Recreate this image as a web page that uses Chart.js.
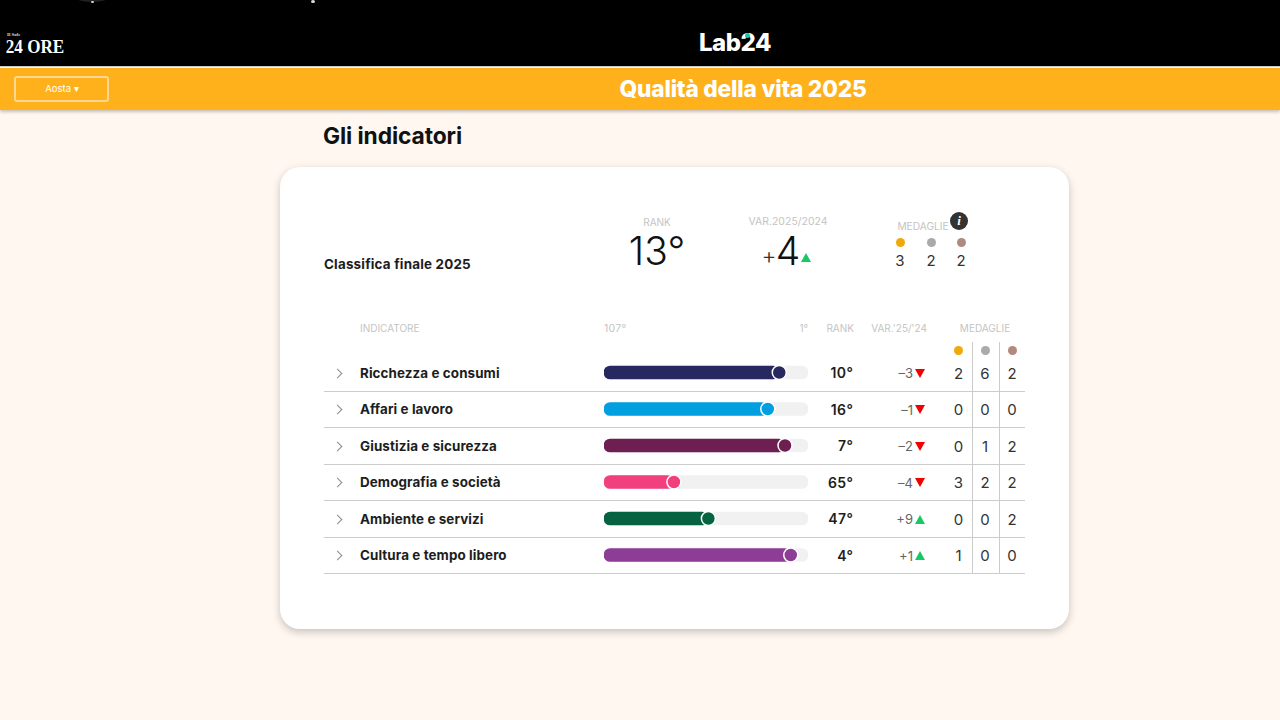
<!DOCTYPE html>
<html lang="it">
<head>
<meta charset="utf-8">
<title>Qualità della vita 2025</title>
<script src="https://cdn.jsdelivr.net/npm/chart.js@4"></script>
<style>
  html, body { margin: 0; padding: 0; width: 1280px; height: 720px; overflow: hidden; background: #fff7f0; font-family: Inter, "Noto Sans", sans-serif; }
  .top { position: absolute; left: 0; top: 0; width: 1280px; height: 66px; background: #000; border-bottom: 1.5px solid #ccc; }
  .band { position: absolute; left: 0; top: 68px; width: 1280px; height: 42px; background: #ffb11b; box-shadow: 0 2px 3px rgba(0,0,0,.22); }
  .select { position: absolute; left: 14px; top: 76px; width: 91px; height: 22px; border: 2px solid #ffd694; border-radius: 3px; }
  .card { position: absolute; left: 280px; top: 167px; width: 789px; height: 462px; background: #fff; border-radius: 20px; box-shadow: 0 3px 8px rgba(0,0,0,.22); }
  .t { position: absolute; white-space: nowrap; line-height: 1; transform: translateY(-50%); }
  .c { transform: translate(-50%, -50%); }
  .r { transform: translate(-100%, -50%); }
  .head { color: #c4c4c4; font-size: 10px; }
  .name { color: #1d1d1d; font-size: 13.4px; font-weight: 700; letter-spacing: .1px; }
  .rank { color: #1d1d1d; font-size: 14px; font-weight: 700; letter-spacing: .5px; }
  .vari { color: #666; font-size: 13px; }
  .num { color: #333; font-size: 15px; }
  .dot { position: absolute; border-radius: 50%; }
  .line { position: absolute; background: #ccc; }
  .chev { position: absolute; width: 6px; height: 6px; border-top: 1.3px solid #8a8a8a; border-right: 1.3px solid #8a8a8a; transform: rotate(45deg); }
  .tri { position: absolute; width: 0; height: 0; border-left: 5.5px solid transparent; border-right: 5.5px solid transparent; }
  .info { position: absolute; left: 950px; top: 212px; width: 18px; height: 18px; border-radius: 50%; background: #333; color: #fff; font: italic 700 13px/18px "Liberation Serif", serif; text-align: center; }
  #chartBox { position: absolute; left: 594px; top: 354px; width: 224px; height: 220px; }
</style>
</head>
<body>
<div class="top"></div>
<div class="band"></div>
<div class="select"></div>
<div class="card"></div>
<div class="info">i</div>
<div id="page"></div>
<div id="chartBox"><canvas id="chart"></canvas></div>
<script>
const categories = ["Ricchezza e consumi", "Affari e lavoro", "Giustizia e sicurezza", "Demografia e società", "Ambiente e servizi", "Cultura e tempo libero"];
const ranks = [10, 16, 7, 65, 47, 4];
const variations = [-3, -1, -2, -4, 9, 1];
const gold = [2, 0, 0, 3, 0, 1];
const silver = [6, 0, 1, 2, 0, 0];
const bronze = [2, 0, 2, 2, 2, 0];
const barColors = ["#27285f", "#00a0e0", "#6d1f52", "#f23f7e", "#05633f", "#8e3d96"];
const medalColors = ["#eeaa0b", "#aaaaaa", "#b08a80"];
const totalRank = 13;
const totalVariation = 4;
const totalMedals = [3, 2, 2];
const trackStart = 101.5;
const trackEnd = -5;

const page = document.getElementById("page");

function put(text, x, y, cls, style) {
    const el = document.createElement("div");
    el.className = "t " + cls;
    el.textContent = text;
    el.style.left = x + "px";
    el.style.top = y + "px";
    if (style) el.style.cssText += style;
    page.appendChild(el);
    return el;
}

function shape(cls, x, y, w, h, color) {
    const el = document.createElement("div");
    el.className = cls;
    el.style.left = x + "px";
    el.style.top = y + "px";
    if (w !== null) el.style.width = w + "px";
    if (h !== null) el.style.height = h + "px";
    if (color) el.style.background = color;
    page.appendChild(el);
    return el;
}

function triangle(x, y, up) {
    const el = shape("tri", x, y, null, null, null);
    if (up) el.style.borderBottom = "9px solid #17c964";
    else el.style.borderTop = "9px solid #f00000";
}

// header
shape("dot", 75, -8, 34, 10, "#222");
shape("dot", 91, 1, 3, 2, "#ddd");
shape("dot", 311, 0, 4, 3, "#ddd");
put("Il Sole", 7, 34, "", "color:#ddd;font:700 5px 'Liberation Serif',serif;");
put("24 ORE", 34.5, 47, "c", "color:#fff;font:700 19px 'Liberation Serif',serif;transform:translate(-50%,-50%) scaleX(.9);");
put("Lab24", 735, 43, "c", "color:#fff;font-size:24px;font-weight:800;letter-spacing:-.5px;");
shape("dot", 745, 33, 5, 5, "#17c9a0");
put("Aosta ▾", 62, 89, "c", "color:#fff;font-size:9.5px;");
put("Qualità della vita 2025", 743, 87.5, "c", "color:#fff;font:800 22.7px Inter,sans-serif;letter-spacing:-.2px;");
put("Gli indicatori", 323, 135, "", "color:#111;font:700 22.8px Inter,sans-serif;letter-spacing:-.1px;");

// summary
put("Classifica finale 2025", 324, 264.5, "name", "letter-spacing:.2px;");
put("RANK", 657, 222, "c head");
put(totalRank + "°", 657, 250, "c", "color:#111;font-size:39px;font-weight:300;");
put("VAR.2025/2024", 788, 222, "c head", "font-size:10.5px;");
put("+", 769, 256, "c", "color:#333;font-size:23px;font-weight:300;");
put(String(totalVariation), 788, 250, "c", "color:#111;font-size:39px;font-weight:300;");
triangle(800.5, 253, totalVariation > 0);
put("MEDAGLIE", 923, 226, "c head", "font-size:10.2px;");
[900, 931, 961].forEach((x, i) => {
    shape("dot", x - 4.5, 237.5, 9, 9, medalColors[i]);
    put(String(totalMedals[i]), x, 259.5, "c num");
});

// table head
put("INDICATORE", 360, 328, "head");
put("107°", 604, 328.5, "head", "font-size:10.5px;letter-spacing:.3px;");
put("1°", 808, 328, "r head");
put("RANK", 854, 328, "r head");
put("VAR.'25/'24", 927, 328, "r head");
put("MEDAGLIE", 985, 328, "c head");
const medalCols = [958.5, 985, 1012];
medalCols.forEach((x, i) => shape("dot", x - 4.5, 346, 9, 9, medalColors[i]));
shape("line", 972, 342, 1, 231);
shape("line", 998.5, 342, 1, 231);

// table rows
categories.forEach((name, i) => {
    const y = 373 + i * 36.5;
    shape("chev", 333.5, y - 3.5, null, null, null);
    put(name, 360, y + 0.6, "name");
    put(ranks[i] + "°", 853.5, y, "r rank", "font-weight:600;");
    const v = variations[i];
    put((v > 0 ? "+" : "–") + Math.abs(v), 913, y, "r vari");
    triangle(915, y - 4.5, v > 0);
    [gold, silver, bronze].forEach((col, k) => put(String(col[i]), medalCols[k], y - 0.5, "c num"));
    shape("line", 324, y + 17.7, 701, 1);
});

// bars: track, filled part and end dot, all on the same rank axis
const dotPoints = ranks.map((r, i) => ({ x: r, y: categories[i] }));

new Chart(document.getElementById("chart"), {
    type: "bar",
    data: {
        labels: categories,
        datasets: [
            {
                type: "line",
                data: dotPoints,
                showLine: false,
                order: 1,
                pointRadius: 7,
                pointHoverRadius: 7,
                pointBackgroundColor: barColors,
                pointBorderColor: "#ffffff",
                pointBorderWidth: 1.5
            },
            {
                data: ranks.map(r => [trackStart, r]),
                backgroundColor: barColors,
                order: 2,
                grouped: false,
                barThickness: 13,
                borderRadius: 7,
                borderSkipped: false
            },
            {
                data: ranks.map(() => [trackStart, trackEnd]),
                backgroundColor: "#f1f1f1",
                order: 3,
                grouped: false,
                barThickness: 13,
                borderRadius: 7,
                borderSkipped: false
            }
        ]
    },
    options: {
        indexAxis: "y",
        responsive: true,
        maintainAspectRatio: false,
        animation: false,
        // the line dataset would otherwise inset the plot area by the dot radius
        layout: { autoPadding: false, padding: { left: 10, right: 10, top: 0.25, bottom: 0.75 } },
        plugins: { legend: { display: false }, tooltip: { enabled: false } },
        scales: {
            x: { type: "linear", reverse: true, min: trackEnd, max: trackStart, display: false },
            y: { type: "category", offset: true, display: false }
        }
    }
});
</script>
</body>
</html>
